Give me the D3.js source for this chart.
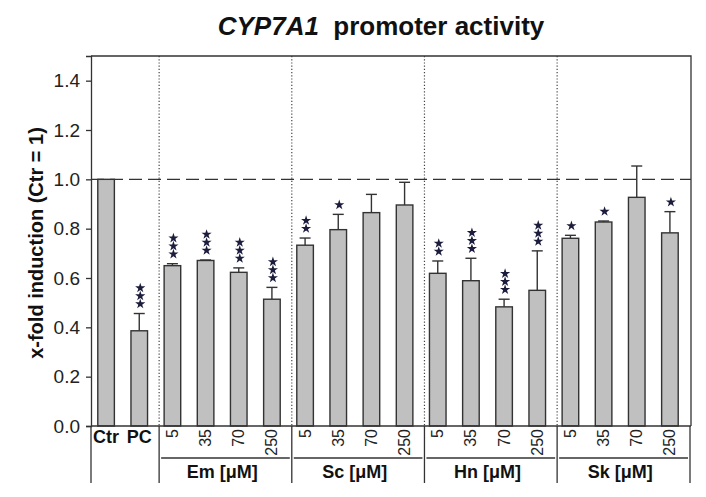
<!DOCTYPE html>
<html><head><meta charset="utf-8">
<script src="https://cdn.jsdelivr.net/npm/d3@7"></script>
<style>body{margin:0;background:#fff;} text{font-family:"Liberation Sans",Arial,sans-serif;}</style>
</head><body>
<svg id="chart" width="706" height="497"></svg>
<script>
// ---- data ----
const barKeys = ["Ctr","PC","Em5","Em35","Em70","Em250","Sc5","Sc35","Sc70","Sc250","Hn5","Hn35","Hn70","Hn250","Sk5","Sk35","Sk70","Sk250"];
const barLabels = ["Ctr","PC","5","35","70","250","5","35","70","250","5","35","70","250","5","35","70","250"];
const values = [1.0, 0.386, 0.650, 0.671, 0.623, 0.514, 0.733, 0.796, 0.865, 0.896, 0.619, 0.589, 0.483, 0.550, 0.761, 0.827, 0.927, 0.783];
const errors = [0, 0.070, 0.008, 0.002, 0.018, 0.048, 0.029, 0.062, 0.074, 0.092, 0.050, 0.091, 0.031, 0.160, 0.012, 0.004, 0.127, 0.086];
const stars  = [0, 3, 3, 3, 3, 3, 2, 1, 0, 0, 2, 3, 3, 3, 1, 1, 0, 1];
const groupNames = ["Em [μM]","Sc [μM]","Hn [μM]","Sk [μM]"];
const groupFirst = [2, 6, 10, 14];
const yTicks = [0, 0.2, 0.4, 0.6, 0.8, 1.0, 1.2, 1.4];

const svg = d3.select("#chart");
const pLeft = 91, pRight = 691, pTop = 56, pBottom = 426;
const dark = "#333";

const x = d3.scaleBand().domain(barKeys).range([89.5, 686.5]).paddingInner(0.5).paddingOuter(0.25);
const y = d3.scaleLinear().domain([0, 1.5]).range([pBottom, pTop]);

// title
const title = svg.append("text").attr("x", 381).attr("y", 35).attr("text-anchor", "middle")
  .style("font-size", "26px").style("font-weight", "bold").attr("fill", "#111");
title.append("tspan").style("font-style", "italic").text("CYP7A1");
title.append("tspan").text("\u00a0 promoter activity");

// group divider positions
const dividers = groupFirst.map(i => x(barKeys[i]) - 5);

// dotted verticals
svg.selectAll(".dot").data(dividers).join("line")
  .attr("x1", d => d).attr("x2", d => d).attr("y1", pTop).attr("y2", pBottom)
  .attr("stroke", "#444").attr("stroke-width", 1.2).attr("stroke-dasharray", "1.2,2");

// dashed reference line at 1.0
svg.append("line").attr("x1", pLeft).attr("x2", pRight).attr("y1", y(1)).attr("y2", y(1))
  .attr("stroke", dark).attr("stroke-width", 1.3).attr("stroke-dasharray", "13,6");

// bars
svg.selectAll(".bar").data(values).join("rect")
  .attr("x", (d, i) => x(barKeys[i])).attr("width", x.bandwidth())
  .attr("y", d => y(d)).attr("height", d => pBottom - y(d))
  .attr("fill", "#c0c0c0").attr("stroke", dark).attr("stroke-width", 1.4);

// error bars (upper only)
const eb = svg.append("g").attr("stroke", dark).attr("stroke-width", 1.4);
values.forEach((v, i) => {
  if (!errors[i]) return;
  const cx = x(barKeys[i]) + x.bandwidth() / 2;
  eb.append("line").attr("x1", cx).attr("x2", cx).attr("y1", y(v)).attr("y2", y(v + errors[i]));
  eb.append("line").attr("x1", cx - 5.5).attr("x2", cx + 5.5).attr("y1", y(v + errors[i])).attr("y2", y(v + errors[i]));
});

// significance stars
const starPath = d3.symbol().type(d3.symbolStar).size(32)();
values.forEach((v, i) => {
  const cx = x(barKeys[i]) + x.bandwidth() / 2 + 1;
  const base = y(v + errors[i]) - 9.5;
  for (let k = 0; k < stars[i]; k++) {
    svg.append("path").attr("d", starPath)
      .attr("transform", `translate(${cx},${base - k * 8})`)
      .attr("fill", "#1c1c3c");
  }
});

// frame: top and right
svg.append("path").attr("d", `M${pLeft},${pTop}H${pRight}V${pBottom}`)
  .attr("fill", "none").attr("stroke", dark).attr("stroke-width", 1.3);
// bottom axis line
svg.append("line").attr("x1", pLeft).attr("x2", pRight).attr("y1", pBottom).attr("y2", pBottom)
  .attr("stroke", dark).attr("stroke-width", 1.3);

// y axis
const yAxis = svg.append("g").attr("transform", `translate(${pLeft},0)`)
  .call(d3.axisLeft(y).tickValues(yTicks).tickFormat(d3.format(".1f")).tickSize(5).tickPadding(6));
yAxis.select(".domain").attr("stroke", dark).attr("stroke-width", 1.3);
yAxis.selectAll(".tick line").attr("stroke", dark).attr("stroke-width", 1.3);
yAxis.selectAll(".tick text").style("font-size", "19px").attr("fill", "#222")
  .style("font-family", '"Liberation Sans", Arial, sans-serif');

// y title
svg.append("text").attr("transform", `translate(36,243) rotate(-90)`)
  .attr("text-anchor", "middle").attr("dominant-baseline", "central")
  .style("font-size", "20px").style("font-weight", "bold").attr("fill", "#111")
  .text("x-fold induction (Ctr = 1)");

// bottom label area lines
const lowY = 483;
[pLeft, ...dividers, pRight - 1].forEach(d => {
  svg.append("line").attr("x1", d).attr("x2", d).attr("y1", pBottom).attr("y2", lowY)
    .attr("stroke", dark).attr("stroke-width", 1.3);
});
const ends = [...dividers.slice(1), pRight - 1];
dividers.forEach((d, g) => {
  svg.append("line").attr("x1", d + 2).attr("x2", ends[g] - 2).attr("y1", 458).attr("y2", 458)
    .attr("stroke", dark).attr("stroke-width", 1.3);
});

// category labels
barLabels.forEach((lab, i) => {
  const cx = x(barKeys[i]) + x.bandwidth() / 2;
  if (i < 2) {
    svg.append("text").attr("x", cx).attr("y", 443).attr("text-anchor", "middle")
      .style("font-size", "18px").style("font-weight", "bold").attr("fill", "#111").text(lab);
  } else {
    svg.append("text").attr("transform", `translate(${cx},429) rotate(-90)`)
      .attr("text-anchor", "end").attr("dominant-baseline", "central")
      .style("font-size", "16px").attr("fill", "#222").text(lab);
  }
});

// group labels
groupFirst.forEach((f, g) => {
  const c = (x(barKeys[f]) + x(barKeys[f + 3]) + x.bandwidth()) / 2;
  svg.append("text").attr("x", c).attr("y", 478).attr("text-anchor", "middle")
    .style("font-size", "18px").style("font-weight", "bold").attr("fill", "#111").text(groupNames[g]);
});
</script>
</body></html>
